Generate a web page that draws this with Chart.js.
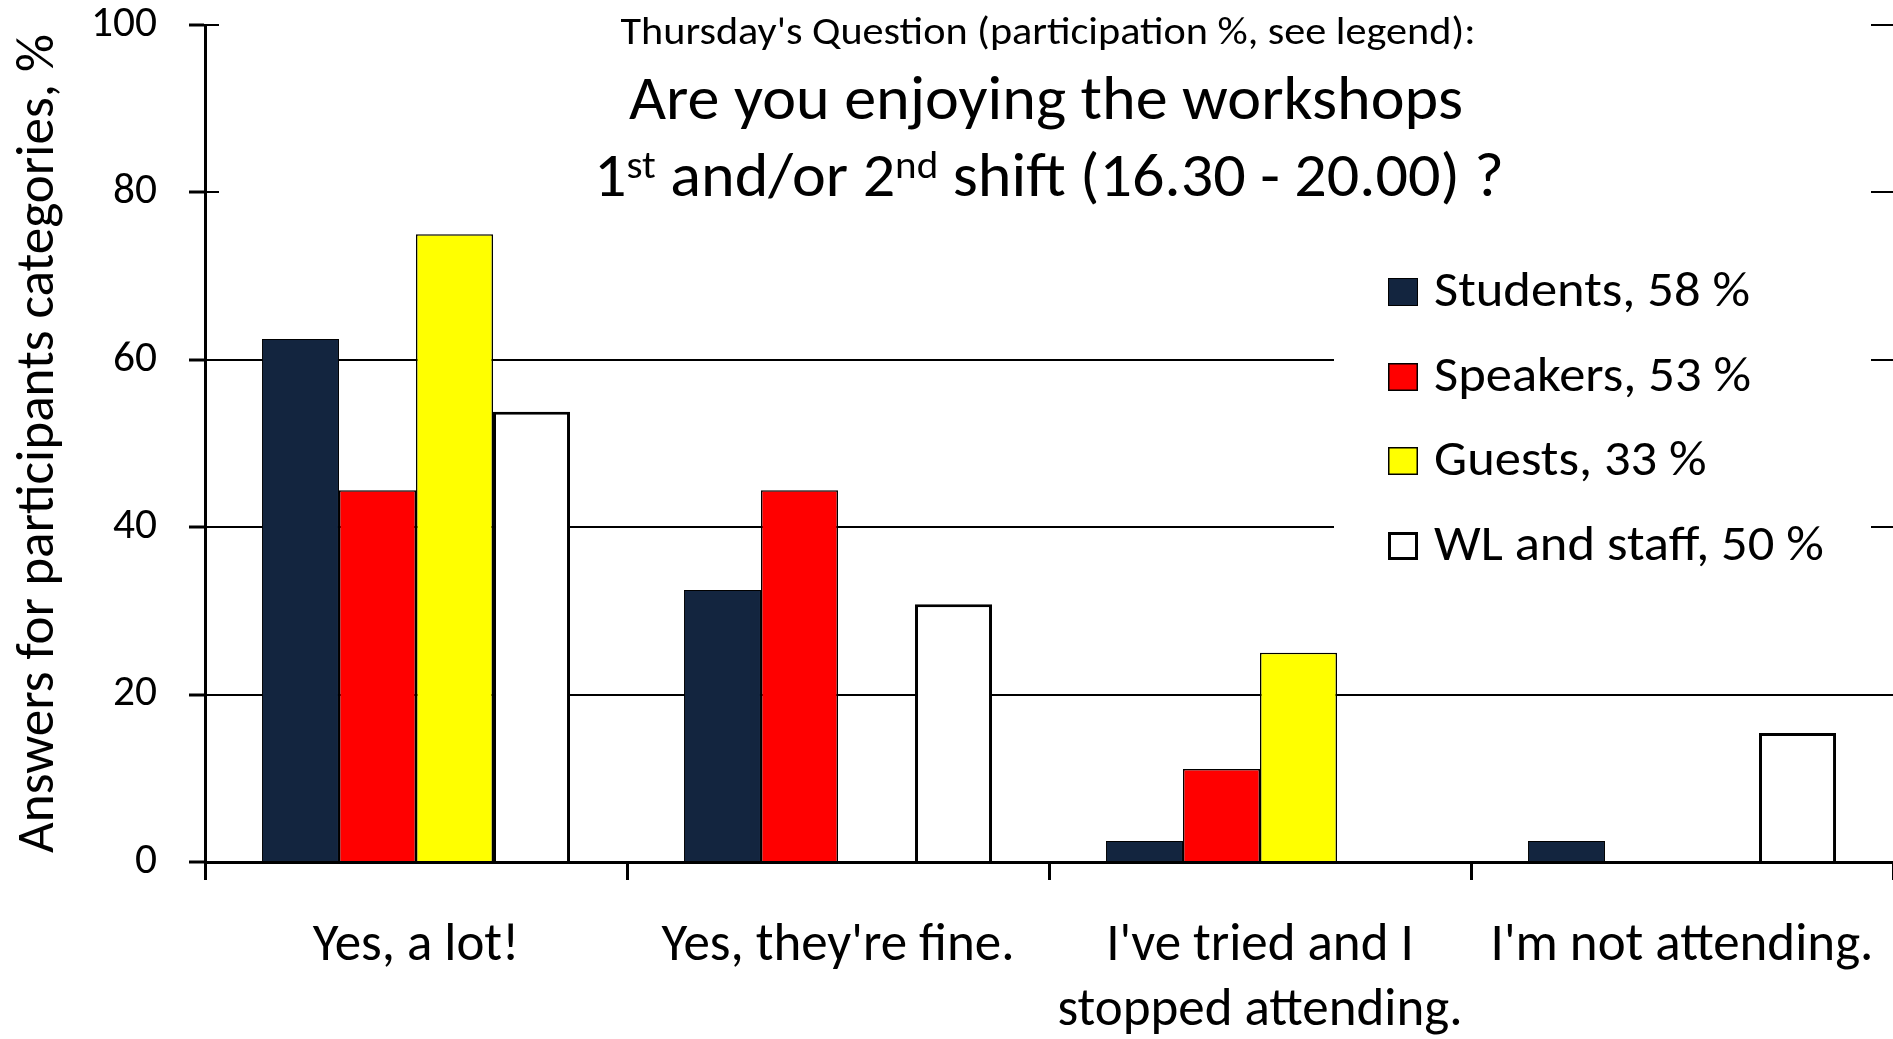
<!DOCTYPE html>
<html><head><meta charset="utf-8">
<script src="https://cdn.jsdelivr.net/npm/chart.js@4.4.1/dist/chart.umd.min.js"></script>
<style>html,body{margin:0;padding:0;background:#fff;overflow:hidden}#wrap{width:1893px;height:1039px;position:relative}canvas{display:block}</style>
</head><body><div id="wrap"><canvas id="c" width="1893" height="1039"></canvas></div>
<script>
// ---- data ----
const categories = [["Yes, a lot!"], ["Yes, they're fine."], ["I've tried and I", "stopped attending."], ["I'm not attending."]];
const seriesNames = ["Students, 58 %", "Speakers, 53 %", "Guests, 33 %", "WL and staff, 50 %"];
const students = [62.5, 32.5, 2.5, 2.5];
const speakers = [44.4, 44.4, 11.1, 0];
const guests = [75, 0, 25, 0];
const wlStaff = [53.8, 30.8, 0, 15.4];
const yTicks = [0, 20, 40, 60, 80, 100];
const seriesColors = ["#13253f", "#ff0000", "#ffff00", "#ffffff"];
const seriesBorders = [1, 1.5, 1.5, 3];
const subtitleText = "Thursday's Question (participation %, see legend):";
const titleLine1 = "Are you enjoying the workshops";
const titleLine2Parts = [["1", false], ["st", true], [" and/or 2", false], ["nd", true], [" shift (16.30 - 20.00) ?", false]];
const yTitleText = "Answers for participants categories, %";

// ---- font fitting ----
const FAMILY = "Carlito, Calibri, Lato, 'Open Sans', sans-serif";
const mctx = document.createElement('canvas').getContext('2d');
function fit(text, width) {
  mctx.font = `100px ${FAMILY}`;
  return 100 * width / mctx.measureText(text).width;
}
// size from cap height, horizontal scale from width
function fitBoth(text, width, capH) {
  mctx.font = `100px ${FAMILY}`;
  const cap = mctx.measureText('H').actualBoundingBoxAscent || 72;
  const size = 100 * capH / cap;
  mctx.font = `${size}px ${FAMILY}`;
  const sx = width / mctx.measureText(text).width;
  return {size, sx};
}
const tickSize = fit("100", 66);
const xLabelSize = fit("I'm not attending.", 383);
const yTitleSize = fit(yTitleText, 819);
const legendFit = fitBoth("Students, 58 %", 316, 32);
const subtitleFit = fitBoth(subtitleText, 855, 25);
const titleFit = fitBoth(titleLine1, 834, 40);

function drawScaled(ctx, text, x, y, size, sx) {
  ctx.save();
  ctx.font = `${size}px ${FAMILY}`;
  ctx.translate(x, y);
  ctx.scale(sx, 1);
  ctx.fillText(text, 0, 0);
  ctx.restore();
}
function scaledWidth(ctx, text, size, sx) {
  ctx.font = `${size}px ${FAMILY}`;
  return ctx.measureText(text).width * sx;
}

const coverPlugin = {
  id: 'cover',
  beforeDatasetsDraw(chart) {
    const {ctx, chartArea: a} = chart;
    ctx.save();
    ctx.fillStyle = '#fff';
    ctx.fillRect(a.left + 14, 0, (a.right - 22) - (a.left + 14), 215);
    ctx.fillRect(1334, 200, (a.right - 22) - 1334, 400);
    ctx.restore();
  }
};

const textPlugin = {
  id: 'texts',
  afterDraw(chart) {
    const {ctx} = chart;
    ctx.save();
    ctx.fillStyle = '#000';
    ctx.textBaseline = 'alphabetic';
    ctx.textAlign = 'left';
    // subtitle
    let w = scaledWidth(ctx, subtitleText, subtitleFit.size, subtitleFit.sx);
    drawScaled(ctx, subtitleText, 1048 - w / 2, 44, subtitleFit.size, subtitleFit.sx);
    // title line 1
    w = scaledWidth(ctx, titleLine1, titleFit.size, titleFit.sx);
    drawScaled(ctx, titleLine1, 1046 - w / 2, 119, titleFit.size, titleFit.sx);
    // title line 2 with superscripts
    const supSize = titleFit.size * 0.64;
    let total = 0;
    for (const [t, sup] of titleLine2Parts) total += scaledWidth(ctx, t, sup ? supSize : titleFit.size, titleFit.sx);
    let x = 1049 - total / 2;
    for (const [t, sup] of titleLine2Parts) {
      const s = sup ? supSize : titleFit.size;
      drawScaled(ctx, t, x, sup ? 196 - titleFit.size * 0.3 : 196, s, titleFit.sx);
      x += scaledWidth(ctx, t, s, titleFit.sx);
    }
    // legend
    const rows = [306, 391, 475, 560];
    chart.data.datasets.forEach((ds, i) => {
      const by = rows[i];
      ctx.fillStyle = ds.backgroundColor;
      ctx.fillRect(1388, by - 28, 30, 28);
      ctx.strokeStyle = '#000';
      ctx.lineWidth = ds.borderWidth;
      ctx.strokeRect(1388 + ds.borderWidth / 2, by - 28 + ds.borderWidth / 2, 30 - ds.borderWidth, 28 - ds.borderWidth);
      ctx.fillStyle = '#000';
      drawScaled(ctx, ds.label, 1434, by, legendFit.size, legendFit.sx);
    });
    ctx.restore();
  }
};

const seriesData = [students, speakers, guests, wlStaff];
new Chart(document.getElementById('c').getContext('2d'), {
  type: 'bar',
  data: {
    labels: categories,
    datasets: seriesData.map((d, i) => ({
      label: seriesNames[i], data: d,
      backgroundColor: seriesColors[i], borderColor: '#000', borderWidth: seriesBorders[i],
      borderSkipped: 'start'
    }))
  },
  options: {
    responsive: false, animation: false, devicePixelRatio: 1,
    layout: {padding: {top: 25, right: 0, left: 0, bottom: 0}},
    plugins: {legend: {display: false}, tooltip: {enabled: false}, title: {display: false}},
    datasets: {bar: {categoryPercentage: 0.73, barPercentage: 1}},
    scales: {
      x: {
        offset: true,
        grid: {offset: true, drawOnChartArea: false, drawTicks: true, tickLength: 18, tickWidth: 3, tickColor: '#000'},
        border: {display: true, color: '#000', width: 3},
        ticks: {color: '#000', font: {family: FAMILY, size: xLabelSize, lineHeight: '65px'}, padding: 34, maxRotation: 0, autoSkip: false},
        afterFit(s) { s.height = 177; s.paddingLeft = 0; s.paddingRight = 0; }
      },
      y: {
        min: 0, max: 100,
        afterBuildTicks(s) { s.ticks = yTicks.map(v => ({value: v})); },
        grid: {color: '#000', lineWidth: 2, drawTicks: true, tickLength: 16, tickWidth: 3, tickColor: '#000'},
        border: {display: true, color: '#000', width: 3},
        ticks: {color: '#000', font: {family: FAMILY, size: tickSize}, padding: 32},
        title: {display: true, text: yTitleText, color: '#000', font: {family: FAMILY, size: yTitleSize}, padding: {top: 40 - yTitleSize * 0.6, bottom: 0}},
        afterFit(s) { s.width = 205; s.paddingTop = 0; s.paddingBottom = 0; }
      }
    }
  },
  plugins: [coverPlugin, textPlugin]
});
</script>
</body></html>
